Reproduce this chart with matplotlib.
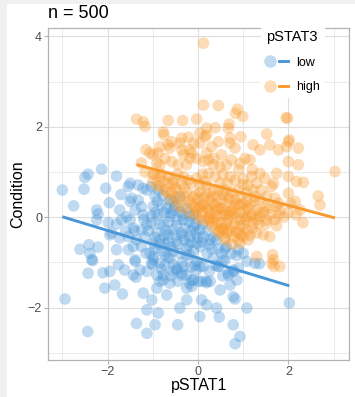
import numpy as np
import matplotlib.pyplot as plt
from matplotlib.lines import Line2D
from matplotlib.patches import Rectangle
from matplotlib.legend_handler import HandlerTuple

plt.rcParams["font.family"] = ["Liberation Sans", "DejaVu Sans"]

# pSTAT1 / Condition values, split by pSTAT3 group
low_x = [-2.13, -2.43, -2.50, -1.80, -3.00, -2.52, -2.04, -1.50, -1.54, -1.32, -1.21, -1.13,
         -1.96, -1.50, -1.47, -1.32, -2.24, -2.21, -2.24, -1.73, -1.39, -1.25, -1.69, -1.58,
         -1.50, -1.21, -1.43, -1.25, -1.13, -1.95, -1.73, -1.54, -1.36, -1.17, -1.43, -1.25,
         -2.61, -2.41, -2.21, -2.39, -2.33, -2.43, -2.10, -1.95, -2.06, -1.84, -1.67, -2.94,
         -2.44, -1.98, -1.91, -1.80, -1.54, -1.76, -1.62, -1.39, -1.43, -1.37, -1.28, -1.13,
         -1.06, -0.99, -1.21, -1.13, -1.02, -0.88, -1.36, -0.95, -1.13, -0.69, -0.62, -0.77,
         -0.91, -0.40, -0.45, -0.25, 0.04, 0.08, 0.19, 0.41, 0.47, 0.78, 0.93, 0.82,
         0.78, 0.82, 1.08, 2.02, 0.49, 0.71, 0.86, 0.89, 1.08, 1.26, 0.78, 0.67,
         0.45, 0.34, 0.19, 0.01, -0.14, -0.25, -0.36, -0.47, -0.55, -0.03, 0.04, -0.18,
         -0.66, -0.84, 1.36, -2.35, -1.39,
         -0.99, -0.73, -0.62, -0.73, -0.47, -0.55, -0.36, -0.32, -0.25, -0.44, -0.19, -0.14,
         -0.10, -0.03, -0.07, 0.08, 0.19, 0.27, 0.12, 0.38, 0.45, 0.52, 0.74, 0.89,
         0.67, 0.78, -0.84, -0.77, -0.91, -1.03,
         -1.03, -0.88, -0.95, -0.77, -0.62, -0.80, -0.99, -0.69, -0.51, -0.40, -0.88, -0.62,
         -0.32, -0.18, -1.03, -0.77, -0.47, -0.10, 0.04, -0.91, -0.66, -0.36, -0.18, 0.12,
         0.27, 0.41, -0.99, -0.73, -0.47, -0.21, -0.03, 0.63, -1.03, -0.55, -0.29, -0.84,
         0.60, 0.85, 1.00, 0.55, 0.30, 0.20, -0.10, 0.05,
         -0.95, -0.80, -0.60, -0.40, -0.25, -0.50, -0.30, -0.15, 0.00, -0.60, -0.45, -0.85,
         -0.70, -0.20, -0.05, 0.20, -0.55, -0.40,
         -1.10, -0.95, -0.85, -0.75, -0.65, -0.55, -0.45, -0.35, -0.25, -0.15, -0.05, 0.10,
         0.25, 0.35, 0.45, -0.65, -0.75, -0.90, -0.55, -0.35, -0.25, -0.10, 0.10, -1.15,
         -1.00, -0.80, -0.60, -0.35, -0.15, 0.25, 0.55, 0.60, -1.20, -1.40, -1.60, -1.80,
         -2.75, -1.70, -0.95]
low_y = [1.06, 0.95, 0.88, 0.91, 0.60, 0.62, 0.64, 0.75, 0.68, 0.71, 0.64, 0.60,
         0.32, 0.35, 0.42, 0.38, 0.16, 0.07, -0.06, 0.16, 0.16, 0.23, -0.06, 0.01,
         -0.06, 0.05, -0.24, -0.28, -0.17, -0.39, -0.46, -0.43, -0.50, -0.43, -0.65, -0.65,
         -0.71, -0.61, -0.66, -0.80, -0.96, -1.24, -1.23, -1.20, -1.57, -1.50, -1.70, -1.81,
         -2.53, -0.12, -0.35, -0.72, -0.72, -1.05, -1.17, -0.98, -1.28, -1.33, -1.17, -1.20,
         -0.80, -0.94, -1.68, -2.05, -1.83, -2.12, -2.35, -2.38, -2.57, -1.72, -1.46, -1.39,
         -1.57, -2.01, -2.38, -1.83, -2.20, -1.83, -1.94, -2.01, -2.21, -2.38, -2.64, -2.80,
         -1.76, -1.81, -2.01, -1.90, -1.61, -1.50, -1.39, -1.13, -0.98, -1.02, -1.20, -1.28,
         -1.09, -0.91, -1.42, -1.42, -1.39, -1.57, -1.28, -1.17, -1.05, -0.98, -1.09, -0.83,
         -0.87, -1.02, -1.03, -0.94, -0.94,
         -0.87, -0.83, -0.91, -1.06, -1.13, -1.20, -1.24, -1.09, -1.28, -1.42, -1.46, -1.53,
         -1.39, -1.17, -1.06, -1.42, -1.45, -1.42, -1.09, -1.06, -1.09, -0.80, -0.80, -0.72,
         -1.24, -1.17, -1.42, -1.28, -1.28, -1.02,
         0.68, 0.60, 0.46, 0.49, 0.38, 0.27, 0.24, 0.20, 0.24, 0.12, 0.05, 0.02,
         -0.06, 0.02, -0.13, -0.17, -0.17, -0.21, -0.28, -0.35, -0.39, -0.35, -0.43, -0.43,
         -0.50, -0.50, -0.58, -0.58, -0.54, -0.61, -0.58, -0.65, 0.02, -0.28, -0.24, -0.50,
         -0.70, -0.85, -0.80, -0.95, -0.70, -0.80, -0.75, -0.65,
         -0.70, -0.75, -0.65, -0.80, -0.70, -0.40, -0.50, -0.30, -0.45, 0.10, -0.05, -0.15,
         -0.30, -0.10, -0.15, -0.30, 0.35, 0.45,
         -0.30, -0.45, -0.60, -0.40, -0.55, -0.75, -0.60, -0.40, -0.85, -0.55, -0.35, -0.55,
         -0.60, -0.45, -0.70, -0.10, 0.10, 0.35, 0.15, 0.05, 0.20, 0.05, -0.15, -0.80,
         -1.05, -1.15, -1.30, -1.00, -1.10, -1.20, -1.30, -0.95, -0.05, -0.30, -0.30, -0.15,
         0.25, 0.50, 0.10]

high_x = [0.12, 0.12, 0.45, 0.87, 0.83, 0.99, -1.36, -1.21, -1.17, -0.77, -0.75, -0.66,
          -0.34, -0.03, 0.19, 0.38, 0.69, 0.67, 0.04, 0.19, 0.95, 1.52, 1.95, 1.98,
          2.02, -0.36, -0.21, 0.71, 0.15, -1.15, -1.17,
          -1.06, -0.99, -0.88, -0.84, -0.66, -0.62, -0.58, -0.40, -0.36, -0.32, -0.18, -0.14,
          -0.10, 0.04, 0.19, 0.30, 0.45, 0.52, 0.71, 0.82, 0.93, 1.04, 0.74, 0.63,
          0.49, 0.34, 0.23, 0.12, -0.03, -0.18, -0.25, -0.44, -0.58, -0.73, -0.84, -0.91,
          -0.84, -0.77, -0.73, -0.66, -0.55, -0.47, -0.36, -0.32, -0.21, -0.14, -0.03, 0.04,
          0.15, 0.23, 0.38, 0.49, 0.60, 0.71, 0.82, 0.89, 1.00, 1.08, 0.19, 0.27,
          0.34, 0.41, 0.52, 0.67, 0.82, 0.93, 1.04, 1.08, 0.12, 0.23, 0.38, 0.52,
          0.60, 0.71, 0.82, 0.93, 1.00, 1.08, 0.41, 0.52, 0.63, 0.74, 0.85, 0.96,
          1.08, 1.11, 0.89, 0.78, -0.03, 0.04, 0.15, 0.30,
          1.22, 1.37, 1.59, 1.78, 2.00, 1.96, 2.22, 2.00, 2.22, 1.37, 1.74, 2.00,
          2.18, 2.33, 3.03, 1.15, 1.19, 1.30, 1.48, 1.67, 1.63, 1.22, 1.26, 1.37,
          1.52, 1.70, 1.78, 1.81, 1.74, 1.56, 1.45, 1.30, 1.19, 1.37, 1.52, 1.70,
          1.78, 2.00, 2.15, 2.26, 2.66, 1.74, 1.30, 1.45, 1.59, 1.22, 1.15,
          1.30, 1.65, 1.67, 1.63, 1.81, 1.68, 1.00, 0.93, 2.32, 2.17, 2.70, -1.25,
          -0.95, -1.00, -0.90, -0.60, -0.50, -0.40, -0.25, -0.20, -0.10, 0.00, 0.05, 0.10,
          0.25, 0.35, 0.30, 0.45, 0.55, 0.60, 0.65, 0.75, 0.80, 0.85, 0.95, 1.00,
          1.10, 1.05, 0.70, 0.55, 0.95, 1.15, 1.25, 1.40, 1.50, 1.60, 1.35, 0.20,
          0.40, 0.70, -0.30, -0.65, 0.10, 0.55, 0.90, 1.20, 0.35, -0.45,
          0.30, 0.45, 0.60, 0.75, 0.25, 0.55, 0.40, 0.50, 0.65, 0.80,
          0.95, 1.10, 1.20, 1.35, 2.00, 0.20, 0.35, 0.10, -0.10,
          -0.30, -0.55, -0.80, 0.60, 0.90, 0.70, 1.00,
          0.45, 0.60, 0.65, 0.50, 1.15, 1.30, 1.50, 0.75, 0.85, 0.45, 0.25,
          1.90, 2.05, 0.15, -0.05,
          -0.70, -0.60, -0.45, -0.35, -0.20, -0.05, 0.05, -0.85, -1.00, -0.50, -0.15, 0.00]
high_y = [3.85, 2.48, 2.47, 2.39, 2.30, 2.23, 2.17, 2.11, 2.01, 1.89, 1.82, 2.14,
          2.14, 2.17, 1.97, 1.98, 2.06, 1.97, 1.86, 1.82, 1.78, 1.84, 2.20, 2.19,
          1.71, 1.75, 1.77, 1.75, 1.78, 1.49, 1.00,
          1.42, 1.38, 1.42, 1.56, 1.60, 1.53, 1.67, 1.64, 1.49, 1.38, 1.49, 1.42,
          1.64, 1.64, 1.42, 1.56, 1.67, 1.38, 1.64, 1.53, 1.19, 1.30, 1.27, 1.16,
          1.12, 1.16, 1.27, 1.23, 1.30, 1.30, 1.16, 1.16, 1.23, 1.30, 1.16, 1.19,
          0.90, 0.79, 0.60, 0.75, 0.82, 0.60, 0.75, 0.90, 0.82, 0.75, 0.86, 0.72,
          0.79, 0.97, 0.90, 0.75, 0.60, 0.90, 0.82, 0.60, 0.72, 0.53, 0.53, 0.38,
          0.60, 0.46, 0.38, 0.46, 0.38, 0.27, 0.16, 0.35, 0.27, 0.16, 0.24, 0.20,
          0.05, 0.12, 0.09, -0.06, -0.17, 0.02, 0.02, -0.13, -0.13, -0.21, -0.32, -0.39,
          -0.28, -0.50, -0.50, -0.43, 0.12, 0.24, -0.06, -0.10,
          1.60, 1.49, 1.60, 1.49, 1.67, 1.56, 1.53, 1.23, 1.16, 0.97, 0.97, 0.90,
          0.79, 0.77, 1.01, 1.27, 0.90, 0.75, 0.86, 0.75, 0.68, 0.60, 0.46, 0.38,
          0.46, 0.42, 0.31, 0.16, 0.24, 0.20, 0.12, 0.16, 0.05, 0.02, -0.06, -0.06,
          0.05, 0.53, 0.35, 0.16, 0.47, -0.19, -0.35, -0.39, -0.43, -0.13, 0.27,
          -0.87, -0.83, -0.94, -1.02, -1.09, -1.09, -0.43, -0.58, -0.12, 0.05, 0.27, 1.20,
          0.95, 0.80, 0.70, 0.55, 0.45, 0.40, 0.55, 0.35, 0.45, 0.40, 0.55, 0.10,
          0.00, -0.05, 0.45, 0.60, 0.50, 0.30, 0.75, 0.55, 0.25, 0.00, 0.45, 0.85,
          0.70, -0.05, -0.30, -0.25, -0.20, -0.40, 0.35, 0.60, 0.25, 0.05, -0.15, 0.70,
          0.15, 0.05, 0.65, 0.90, 0.95, 0.95, 1.05, 1.05, 1.30, 0.95,
          -0.20, -0.35, -0.45, -0.60, -0.05, -0.30, -0.15, 0.05, -0.05, -0.15,
          0.10, 0.20, -0.25, 0.10, 0.10, 0.20, 0.30, 0.30, 0.25,
          0.45, 0.75, 0.95, 0.15, -0.35, 0.40, 0.30,
          -0.30, -0.50, -0.35, -0.25, 0.00, -0.05, -0.15, 0.15, 0.30, 0.20, 0.10,
          0.00, 0.30, 0.45, 0.50,
          0.55, 0.40, 0.25, 0.20, 0.10, 0.05, -0.05, 0.70, 0.95, 0.65, 0.30, 0.20]

groups = ["low", "high"]
colors = {"low": "#4a97d8", "high": "#f99a2c"}
n_total = 500

fig = plt.figure(figsize=(3.55, 3.97), dpi=100)
fig.patch.set_facecolor("#f0f0f0")
fig.add_artist(Rectangle((7 / 355, 0), 1, 1 - 4 / 397, transform=fig.transFigure,
                         facecolor="white", edgecolor="none", zorder=-10))

ax = fig.add_axes([48.3 / 355, 37 / 397, (349 - 48.3) / 355, (360 - 28.3) / 397])
ax.set_facecolor("white")

data = {"low": (np.array(low_x), np.array(low_y)),
        "high": (np.array(high_x), np.array(high_y))}

handles = []
for g in groups:
    x, y = data[g]
    ax.scatter(x, y, s=70, color=colors[g], alpha=0.35, edgecolors="none", zorder=2)
for g in groups:
    x, y = data[g]
    k, b = np.polyfit(x, y, 1)
    xs = np.array([x.min(), x.max()])
    ax.plot(xs, k * xs + b, color=colors[g], lw=2.1, zorder=3, solid_capstyle="butt")
    pt = Line2D([], [], ls="none", marker="o", markersize=9, markerfacecolor=colors[g],
                markeredgecolor="none", alpha=0.35)
    ln = Line2D([], [], color=colors[g], lw=2.1)
    handles.append((pt, ln))

ax.set_xlim(-3.31, 3.34)
ax.set_ylim(-3.16, 4.18)
ax.set_xticks([-2, 0, 2])
ax.set_yticks([-2, 0, 2, 4])
ax.set_xticks([-3, -1, 1, 3], minor=True)
ax.set_yticks([-3, -1, 1, 3], minor=True)
ax.set_xticklabels(["\u22122", "0", "2"])
ax.set_yticklabels(["\u22122", "0", "2", "4"])
ax.grid(which="major", color="#dedede", lw=0.8, zorder=0)
ax.grid(which="minor", color="#e8e8e8", lw=0.6, zorder=0)
ax.set_axisbelow(True)
for s in ax.spines.values():
    s.set_color("#b3b3b3")
    s.set_linewidth(0.9)
ax.tick_params(which="major", length=3, width=0.8, color="#b3b3b3",
               labelsize=9, labelcolor="#4d4d4d", pad=1.5)
ax.tick_params(which="minor", length=0)

ax.set_xlabel("pSTAT1", fontsize=11.5, labelpad=0)
ax.set_ylabel("Condition", fontsize=11.5, labelpad=2)
fig.text(48.3 / 355, 1 - 14 / 397, f"n = {n_total}", fontsize=13, ha="left", va="center")

leg = fig.legend(handles, groups, handler_map={tuple: HandlerTuple(ndivide=None)},
                 loc="upper left", bbox_to_anchor=(255 / 355, 1 - 19 / 397),
                 title="pSTAT3", title_fontsize=10.5, fontsize=9, frameon=True,
                 fancybox=False, handlelength=1.7, labelspacing=1.0,
                 borderpad=0.4, handletextpad=0.7)
leg.get_frame().set_facecolor("white")
leg.get_frame().set_edgecolor("none")
leg.get_frame().set_alpha(1)
leg._legend_box.align = "left"

fig.savefig("out.png", dpi=100)
